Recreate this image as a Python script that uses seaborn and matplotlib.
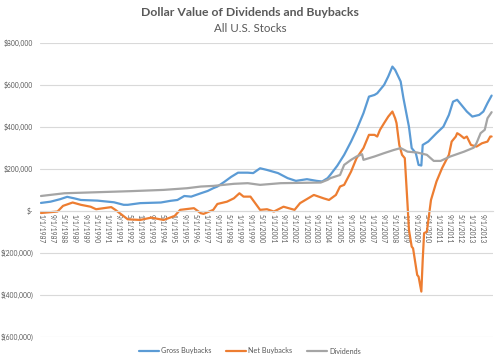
import pandas as pd
import matplotlib.pyplot as plt
import seaborn as sns
from matplotlib.ticker import FuncFormatter, FixedLocator
from matplotlib.lines import Line2D

# ───────────────────────────────────────────────────────────────
# Datos (mes 0 = ene-1987, valores en miles de $)
# ───────────────────────────────────────────────────────────────
gross_m = [0, 7, 14, 19, 24, 29, 41, 53, 60, 63, 72, 87, 94, 99, 104, 109, 116,
           121, 125, 128, 133, 138, 143, 150, 154, 159, 164, 172, 179, 185, 193,
           200, 204, 208, 210, 215, 220, 225, 229, 234, 238, 242, 244, 249, 252,
           255, 257, 261, 263, 267, 269, 272, 274, 276, 277, 281, 287, 292, 296,
           299, 302, 306, 309, 313, 318, 321, 324, 327]
gross_v = [38, 44, 56, 67, 60, 52, 49, 41, 29, 29, 37, 40, 48, 52, 71, 68, 84,
           95, 108, 116, 138, 162, 182, 182, 180, 203, 195, 180, 156, 143, 151,
           143, 140, 156, 172, 215, 267, 330, 386, 465, 544, 552, 560, 600, 640,
           687, 671, 616, 537, 401, 299, 275, 219, 216, 314, 330, 370, 401, 457,
           520, 529, 497, 473, 449, 457, 473, 513, 549]

net_m = [0, 12, 16, 23, 29, 36, 40, 51, 54, 63, 72, 80, 89, 97, 101, 111, 116,
         118, 125, 128, 135, 140, 144, 147, 152, 159, 164, 169, 176, 184, 188,
         198, 205, 209, 214, 217, 220, 225, 229, 234, 238, 242, 244, 246, 249,
         252, 255, 257, 258, 260, 262, 264, 266, 267, 269, 270, 273, 274, 276,
         277, 278, 280, 283, 287, 291, 296, 298, 301, 302, 304, 307, 309, 312,
         316, 320, 324, 326, 327]
net_v = [-10, -3, 24, 40, 29, 20, 8, 18, 5, -40, -43, -32, -43, -24, 5, 13, -11,
         -14, 5, 33, 44, 60, 84, 68, 68, 5, 8, -3, 20, 5, 37, 76, 60, 52, 76,
         116, 124, 187, 251, 299, 362, 362, 354, 386, 418, 449, 473, 441, 418,
         314, 267, 251, 29, -90, -170, -178, -305, -313, -384, -233, -106, -99,
         52, 140, 203, 267, 330, 354, 370, 362, 346, 354, 314, 306, 322, 330,
         354, 354]

div_m = [0, 17, 41, 65, 89, 106, 116, 125, 140, 150, 159, 174, 203, 208, 210,
         217, 220, 225, 229, 233, 234, 242, 249, 256, 261, 266, 273, 280, 285,
         290, 297, 307, 314, 316, 319, 322, 324, 327]
div_v = [71, 84, 89, 94, 100, 108, 116, 119, 129, 132, 124, 132, 135, 148, 156,
         171, 219, 243, 259, 270, 243, 259, 275, 290, 299, 282, 278, 267, 238,
         238, 259, 282, 301, 322, 370, 386, 441, 470]

series = ["Gross Buybacks", "Net Buybacks", "Dividends"]
colors = ["#5B9BD5", "#ED7D31", "#A5A5A5"]

df = pd.concat([
    pd.DataFrame({"mes": gross_m, "valor": [v * 1000 for v in gross_v], "serie": series[0]}),
    pd.DataFrame({"mes": net_m,   "valor": [v * 1000 for v in net_v],   "serie": series[1]}),
    pd.DataFrame({"mes": div_m,   "valor": [v * 1000 for v in div_v],   "serie": series[2]}),
])

# ───────────────────────────────────────────────────────────────
sns.set_style("white")
plt.rcParams["font.family"] = ["Lato", "DejaVu Sans"]
GRIS = "#595959"

fig, ax = plt.subplots(figsize=(5, 3.6), dpi=100)
fig.subplots_adjust(left=0.08, right=0.986, top=0.881, bottom=0.064)

sns.lineplot(data=df, x="mes", y="valor", hue="serie", hue_order=series,
             palette=colors, linewidth=1.6, legend=False, ax=ax, sort=True)

ax.set_xlim(-0.7, 328)
ax.set_ylim(-600000, 800000)
ax.set_yticks(range(-600000, 800001, 200000))
ax.grid(axis="y", color="#D9D9D9", lw=0.8)
ax.set_axisbelow(True)

def contable(v, pos):
    if v == 0:
        return "$-"
    if v < 0:
        return f"$({-v:,.0f})"
    return f"${v:,.0f}"

ax.yaxis.set_major_formatter(FuncFormatter(contable))
ax.tick_params(axis="y", length=0, labelsize=4.9, labelcolor=GRIS, pad=5)

# eje de categorías cruzando en cero
for s in ["top", "right", "left"]:
    ax.spines[s].set_visible(False)
ax.spines["bottom"].set_position(("data", 0))
ax.spines["bottom"].set_color("#D9D9D9")
ax.spines["bottom"].set_linewidth(0.8)

ticks = list(range(0, 321, 8))
labels = [f"{1 + t % 12}/1/{1987 + t // 12}" for t in ticks]
ax.xaxis.set_major_locator(FixedLocator(ticks))
ax.set_xticklabels(labels, rotation=-90, fontsize=4.8, color=GRIS, va="top", ha="center")
ax.tick_params(axis="x", length=0, pad=2)
ax.set_xlabel("")
ax.set_ylabel("")

fig.text(0.5, 0.965, "Dollar Value of Dividends and Buybacks", ha="center", va="center",
         fontsize=8.8, fontweight="bold", color=GRIS)
fig.text(0.5, 0.922, "All U.S. Stocks", ha="center", va="center", fontsize=8.3, color=GRIS)

handles = [Line2D([], [], color=c, lw=1.6) for c in colors]
fig.legend(handles, series, loc="center", bbox_to_anchor=(0.5, 0.025), ncol=3,
           frameon=False, fontsize=5.2, labelcolor=GRIS, handlelength=2.8,
           columnspacing=2.0, handletextpad=0.3)

fig.savefig("out.png", dpi=100)
